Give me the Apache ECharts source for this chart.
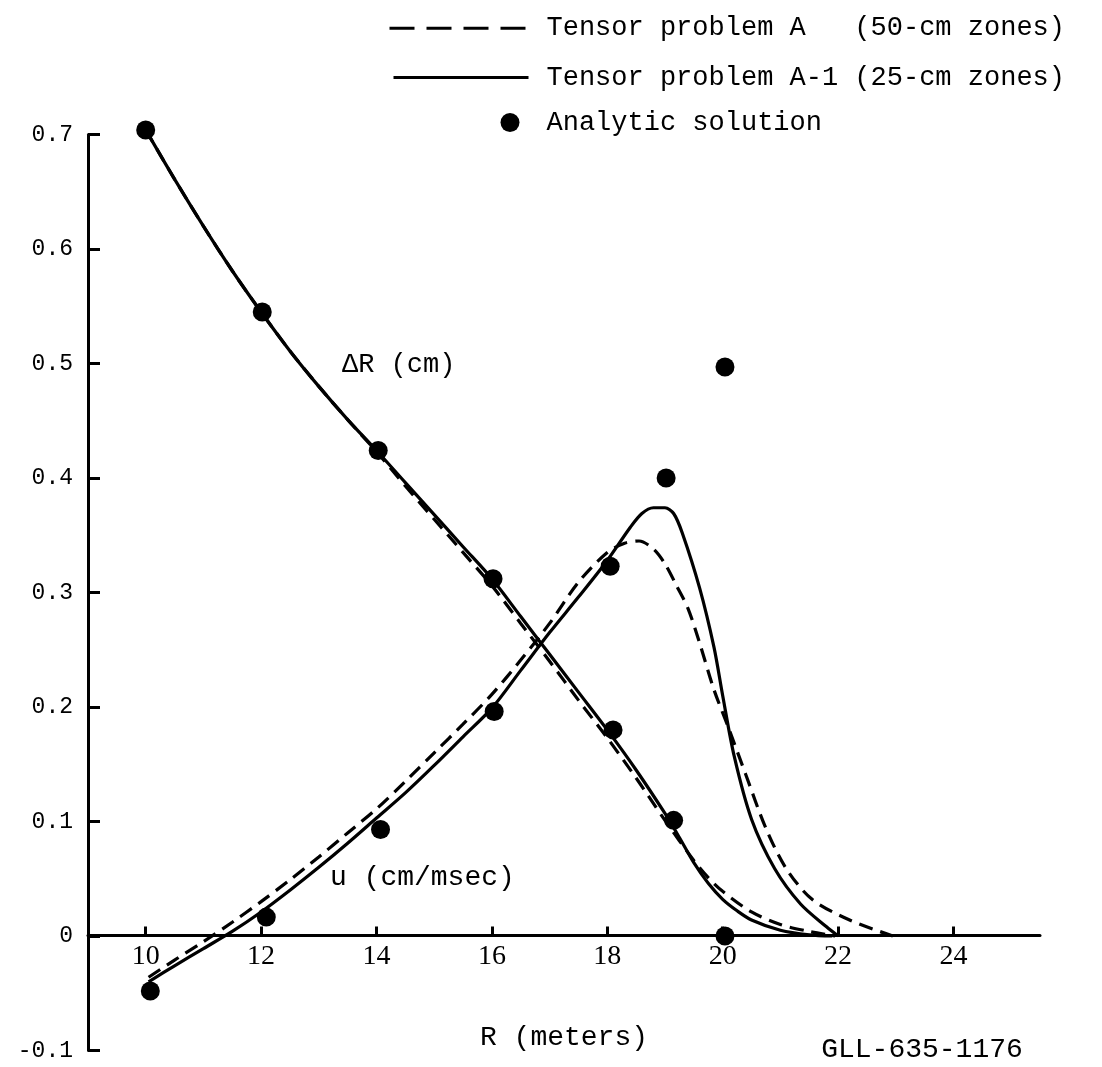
<!DOCTYPE html>
<html>
<head>
<meta charset="utf-8">
<title>Tensor problem A vs analytic solution</title>
<script src="https://cdn.jsdelivr.net/npm/echarts@6/dist/echarts.min.js"></script>
<style>
  html, body { margin: 0; padding: 0; background: #fff; }
  #main { width: 1102px; height: 1067px; }
</style>
</head>
<body>
<div id="main"></div>
<script>
// tick labels on the R axis (meters)
const rTicks = [10, 12, 14, 16, 18, 20, 22, 24];

// delta R (cm), tensor problem A-1 (25-cm zones)
const drA1R = [10, 10.5, 11, 11.5, 12, 12.5, 13, 13.5, 14, 14.5, 15, 15.5, 16, 16.5, 17, 17.5, 18, 18.5, 19, 19.25, 19.5, 19.75, 20, 20.25, 20.5, 21, 21.5, 21.9];
const drA1V = [0.704, 0.661, 0.620, 0.581, 0.545, 0.511, 0.480, 0.451, 0.424, 0.396, 0.368, 0.340, 0.312, 0.279, 0.246, 0.213, 0.180, 0.145, 0.107, 0.086, 0.064, 0.046, 0.032, 0.022, 0.014, 0.005, 0.001, 0];

// delta R (cm), tensor problem A (50-cm zones)
const drAR = [10, 10.5, 11, 11.5, 12, 12.5, 13, 13.5, 14, 14.5, 15, 15.5, 16, 16.5, 17, 17.5, 18, 18.5, 19, 19.5, 19.75, 20, 20.5, 21, 21.5, 21.95];
const drAV = [0.704, 0.661, 0.620, 0.581, 0.545, 0.511, 0.480, 0.451, 0.423, 0.393, 0.364, 0.335, 0.306, 0.273, 0.240, 0.206, 0.173, 0.138, 0.101, 0.066, 0.051, 0.039, 0.021, 0.010, 0.004, 0];

// u (cm/msec), tensor problem A-1
const uA1R = [10.05, 10.5, 11, 11.5, 12, 12.5, 13, 13.5, 14, 14.5, 15, 15.5, 16, 16.5, 17, 17.5, 18, 18.4, 18.6, 18.8, 19.0, 19.15, 19.3, 19.6, 19.85, 20.0, 20.2, 20.5, 20.9, 21.35, 21.8, 22.0];
const uA1V = [-0.040, -0.026, -0.011, 0.004, 0.021, 0.040, 0.060, 0.081, 0.103, 0.125, 0.149, 0.174, 0.199, 0.232, 0.265, 0.296, 0.328, 0.357, 0.369, 0.374, 0.374, 0.369, 0.352, 0.304, 0.252, 0.210, 0.157, 0.102, 0.059, 0.028, 0.008, 0];

// u (cm/msec), tensor problem A
const uAR = [10.05, 10.5, 11, 11.5, 12, 12.5, 13, 13.5, 14, 14.5, 15, 15.5, 16, 16.5, 17, 17.5, 18, 18.3, 18.55, 18.8, 19.0, 19.2, 19.4, 19.6, 19.85, 20.1, 20.4, 20.75, 21.1, 21.55, 22.2, 22.95];
const uAV = [-0.036, -0.021, -0.005, 0.012, 0.030, 0.049, 0.069, 0.090, 0.111, 0.135, 0.160, 0.185, 0.211, 0.241, 0.273, 0.309, 0.335, 0.343, 0.345, 0.338, 0.325, 0.306, 0.286, 0.256, 0.215, 0.182, 0.141, 0.094, 0.059, 0.032, 0.014, 0];

// analytic solution points (delta R first, then u)
const anR = [10.0, 12.02, 14.03, 16.02, 18.10, 19.15, 20.04, 10.08, 12.09, 14.07, 16.04, 18.05, 19.02, 20.04];
const anV = [0.704, 0.545, 0.424, 0.312, 0.180, 0.101, 0, -0.048, 0.0165, 0.093, 0.196, 0.323, 0.400, 0.497];

const nameA = 'Tensor problem A   (50-cm zones)';
const nameA1 = 'Tensor problem A-1 (25-cm zones)';
const nameAn = 'Analytic solution';

function pairs(xs, ys) {
  return xs.map((x, i) => [x, ys[i]]);
}

const mono = 'Liberation Mono';
const solidLine = { color: '#000', width: 3.2, type: 'solid' };
const dashLine = { color: '#000', width: 3.2, type: [14, 8] };
const legendText = { fontFamily: mono, fontSize: 27, color: '#000' };

const chart = echarts.init(document.getElementById('main'));

const option = {
  animation: false,
  backgroundColor: '#fff',
  textStyle: { fontFamily: mono, color: '#000' },
  grid: { left: 88, right: 62, top: 134.5, bottom: 16.5, outerBoundsMode: 'none' },
  legend: [
    {
      data: [nameA], left: 383, top: 9.7, orient: 'vertical', selectedMode: false,
      itemWidth: 137, itemHeight: 30,
      lineStyle: { type: [25, 12], width: 3 },
      itemStyle: { opacity: 0 },
      textStyle: Object.assign({ padding: [0, 0, 0, 15] }, legendText)
    },
    {
      data: [nameA1], left: 387, top: 59, orient: 'vertical', selectedMode: false,
      itemWidth: 135, itemHeight: 30,
      lineStyle: { width: 3 },
      itemStyle: { opacity: 0 },
      textStyle: Object.assign({ padding: [0, 0, 0, 13] }, legendText)
    },
    {
      data: [nameAn], left: 495.5, top: 104, orient: 'vertical', selectedMode: false,
      itemWidth: 19, itemHeight: 30, icon: 'circle',
      itemStyle: { color: '#000', opacity: 1 },
      textStyle: Object.assign({ padding: [0, 0, 0, 22] }, legendText)
    }
  ],
  xAxis: {
    type: 'value',
    min: 9,
    max: 25.5,
    offset: -115,
    name: 'R (meters)',
    nameLocation: 'middle',
    nameGap: 88,
    nameTextStyle: { fontFamily: mono, fontSize: 28, color: '#000' },
    axisLine: { show: true, onZero: false, lineStyle: { color: '#000', width: 3 } },
    axisTick: { show: true, inside: true, length: 9, customValues: rTicks, lineStyle: { color: '#000', width: 3 } },
    axisLabel: {
      customValues: rTicks, margin: 7, color: '#000',
      fontFamily: 'Liberation Serif', fontSize: 28
    },
    splitLine: { show: false }
  },
  yAxis: {
    type: 'value',
    min: -0.1,
    max: 0.7,
    interval: 0.1,
    axisLine: { show: true, onZero: false, lineStyle: { color: '#000', width: 3 } },
    axisTick: { show: true, inside: true, length: 12, lineStyle: { color: '#000', width: 3 } },
    axisLabel: {
      margin: 15, color: '#000', fontFamily: mono, fontSize: 23,
      formatter: v => Math.abs(v) < 1e-9 ? '0' : v.toFixed(1)
    },
    splitLine: { show: false }
  },
  series: [
    { name: nameA, type: 'line', data: pairs(drAR, drAV), smooth: 0.3, symbol: 'none', clip: false, lineStyle: dashLine, itemStyle: { color: '#000' }, z: 2 },
    { name: nameA, type: 'line', data: pairs(uAR, uAV), smooth: 0.3, symbol: 'none', clip: false, lineStyle: dashLine, itemStyle: { color: '#000' }, z: 2 },
    { name: nameA1, type: 'line', data: pairs(drA1R, drA1V), smooth: 0.3, symbol: 'none', clip: false, lineStyle: solidLine, itemStyle: { color: '#000' }, z: 3 },
    { name: nameA1, type: 'line', data: pairs(uA1R, uA1V), smooth: 0.3, symbol: 'none', clip: false, lineStyle: solidLine, itemStyle: { color: '#000' }, z: 3 },
    { name: nameAn, type: 'scatter', data: pairs(anR, anV), symbol: 'circle', symbolSize: 19, clip: false, itemStyle: { color: '#000', opacity: 1 }, z: 5 }
  ],
  graphic: [
    { type: 'text', x: 342, y: 365, style: { text: 'ΔR (cm)', font: '27px "Liberation Mono"', fill: '#000', align: 'left', verticalAlign: 'middle' } },
    { type: 'text', x: 330, y: 878, style: { text: 'u (cm/msec)', font: '28px "Liberation Mono"', fill: '#000', align: 'left', verticalAlign: 'middle' } },
    { type: 'text', x: 922, y: 1050, style: { text: 'GLL-635-1176', font: '28px "Liberation Mono"', fill: '#000', align: 'center', verticalAlign: 'middle' } }
  ]
};

chart.setOption(option);
</script>
</body>
</html>
